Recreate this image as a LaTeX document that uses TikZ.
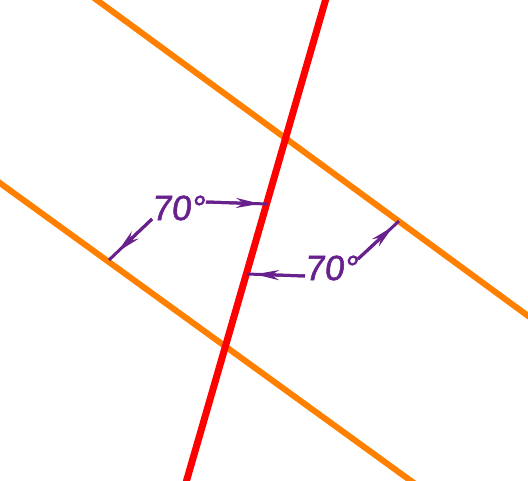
\documentclass[tikz,border=0pt]{standalone}
\usepackage{fontspec}
\setmainfont{Liberation Sans}
\newfontfamily\lblfont[FakeSlant=0.12,FakeBold=1.5]{Liberation Sans}
\usetikzlibrary{arrows.meta,calc}
\definecolor{lorange}{RGB}{255,128,0}
\definecolor{lred}{RGB}{255,0,0}
\definecolor{lpurple}{RGB}{104,32,140}
\tikzset{
  orangeline/.style={draw=lorange,line width=6pt},
  redline/.style={draw=lred,line width=7pt},
  dimline/.style={draw=lpurple,line width=3pt},
  dimarrow/.style={draw=lpurple,line width=3pt,-{Stealth[length=24pt,width=10pt]}},
  lbl/.style={text=lpurple,inner sep=0pt,font=\lblfont\fontsize{35}{40}\selectfont}
}
\begin{document}
\begin{tikzpicture}[x=1pt,y=-1pt]
\useasboundingbox (0,0) rectangle (528,480);
\clip (0,0) rectangle (528,480);
\coordinate (o1a) at (90,-5);
\coordinate (o1b) at (535,321);
\coordinate (o2a) at (-7,178);
\coordinate (o2b) at (418,486);
\coordinate (ra) at (327,-5);
\coordinate (rb) at (185,486);
\draw[orangeline] (o1a) -- (o1b);
\draw[orangeline] (o2a) -- (o2b);
\draw[redline] (ra) -- (rb);
% left label
\node[lbl] (L1) at (178,208) {70°};
\coordinate (s1) at (152,219);
\coordinate (t1) at (206,202);
\coordinate (e1) at (109,260);
\coordinate (e2) at (268,204);
\draw[dimline] (s1) -- (e1);
\draw[dimarrow] (s1) -- ($(e1)!12pt!(s1)$);
\draw[dimline] (t1) -- (e2);
\draw[dimarrow] (t1) -- ($(e2)!8pt!(t1)$);
% right label
\node[lbl] (L2) at (331,268) {70°};
\coordinate (s2) at (305,276);
\coordinate (t2) at (358,259);
\coordinate (e3) at (247,274);
\coordinate (e4) at (399,221);
\draw[dimline] (s2) -- (e3);
\draw[dimarrow] (s2) -- ($(e3)!8pt!(s2)$);
\draw[dimline] (t2) -- (e4);
\draw[dimarrow] (t2) -- ($(e4)!8pt!(t2)$);
\end{tikzpicture}
\end{document}
